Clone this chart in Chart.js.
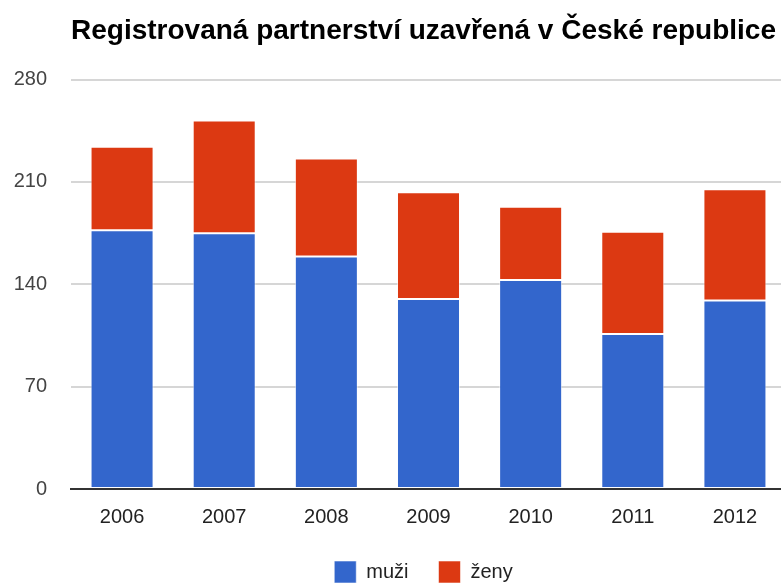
<!DOCTYPE html>
<html>
<head>
<meta charset="utf-8">
<script src="https://cdn.jsdelivr.net/npm/chart.js@4"></script>
<style>
  html, body { margin: 0; padding: 0; background: #fff; overflow: hidden; }
  #wrap { width: 781px; height: 584px; overflow: hidden; }
</style>
</head>
<body>
<div id="wrap"><canvas id="chart" width="847" height="593"></canvas></div>
<script>
const years = ["2006", "2007", "2008", "2009", "2010", "2011", "2012"];
const muzi = [177, 175, 159, 130, 143, 106, 129];
const zeny = [57, 77, 67, 73, 50, 70, 76];
const yTicks = [0, 70, 140, 210, 280];

const font = "'Liberation Sans', Arial, sans-serif";

new Chart(document.getElementById("chart"), {
  type: "bar",
  data: {
    labels: years,
    datasets: [
      {
        label: "muži",
        data: muzi,
        backgroundColor: "#3366cc",
        borderColor: "rgba(255,255,255,0.55)",
        borderWidth: 1,
        borderSkipped: false,
      },
      {
        label: "ženy",
        data: zeny,
        backgroundColor: "#dc3912",
        borderColor: "rgba(255,255,255,0.55)",
        borderWidth: 1,
        borderSkipped: false,
      },
    ],
  },
  options: {
    responsive: false,
    animation: false,
    datasets: { bar: { barPercentage: 0.617, categoryPercentage: 1 } },
    layout: { padding: 0 },
    plugins: {
      title: {
        display: true,
        text: "Registrovaná partnerství uzavřená v České republice",
        color: "#000",
        font: { family: font, size: 28, weight: "bold" },
        padding: { top: 14, bottom: 32 },
      },
      legend: {
        position: "bottom",
        labels: {
          color: "#222",
          font: { family: font, size: 20 },
          boxWidth: 22,
          boxHeight: 22,
          padding: 30,
        },
      },
      tooltip: { enabled: false },
    },
    scales: {
      x: {
        stacked: true,
        grid: { display: false, drawTicks: false },
        border: { display: true, color: "#333", width: 2 },
        ticks: {
          color: "#222",
          font: { family: font, size: 20 },
          padding: 16,
          maxRotation: 0,
        },
        afterFit: (s) => { s.height = 42; },
      },
      y: {
        stacked: true,
        min: 0,
        max: 280,
        afterBuildTicks: (s) => { s.ticks = yTicks.map((v) => ({ value: v })); },
        grid: { color: "#d6d6d6", lineWidth: 2, drawTicks: false },
        border: { display: false },
        ticks: {
          color: "#444",
          font: { family: font, size: 20 },
          padding: 24,
        },
        afterFit: (s) => { s.width = 71; },
      },
      // empty right-hand axis: reserves space so the plot runs past the crop
      yRight: {
        position: "right",
        min: 0,
        max: 280,
        grid: { display: false, drawTicks: false },
        border: { display: false },
        ticks: { display: false },
        afterFit: (s) => { s.width = 61; },
      },
    },
  },
});
</script>
</body>
</html>
